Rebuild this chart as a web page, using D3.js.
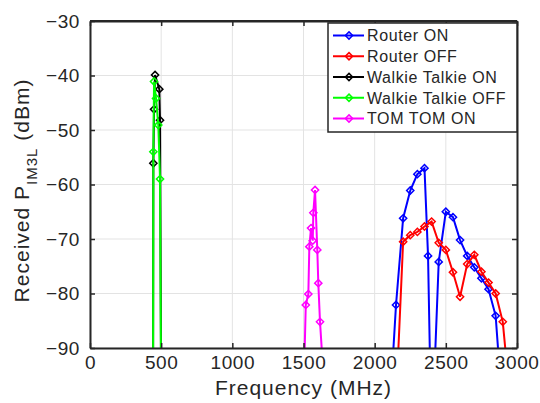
<!DOCTYPE html>
<html>
<head>
<meta charset="utf-8">
<script src="https://cdn.jsdelivr.net/npm/d3@7"></script>
<style>
  body { margin: 0; background: #fff; }
  text { font-family: "Liberation Sans", Arial, sans-serif; fill: #262626; }
</style>
</head>
<body>
<div id="chart"></div>
<script>
// data (MHz, dBm); points below -90 are clipped
var routerOnFreq  = [2100, 2150, 2200, 2250, 2300, 2350, 2375, 2400, 2450, 2500, 2550, 2600, 2650, 2700, 2750, 2800, 2850, 2900];
var routerOnVal   = [-104, -82.1, -66.2, -61.1, -58.1, -57.0, -73.1, -108, -74.2, -65.0, -66.0, -70.2, -73.1, -75.2, -77.2, -79.2, -84.1, -102];
var routerOffFreq = [2150, 2200, 2250, 2300, 2350, 2400, 2450, 2500, 2550, 2600, 2650, 2700, 2750, 2800, 2850, 2900, 2950];
var routerOffVal  = [-100, -70.5, -69.3, -68.7, -67.7, -66.8, -70.7, -72.0, -76.1, -80.6, -74.6, -72.9, -76.0, -78.0, -80.0, -85.2, -99];
var walkieOnFreq  = [443, 445, 450, 457, 487, 492, 500];
var walkieOnVal   = [-100, -56.1, -46.2, -39.9, -42.5, -48.2, -100];
var walkieOffFreq = [443, 445, 450, 464, 480, 492, 500];
var walkieOffVal  = [-100, -54.0, -41.1, -44.2, -49.1, -59.0, -100];
var tomtomFreq    = [1500, 1516, 1534, 1541, 1553, 1565, 1569, 1581, 1597, 1604, 1616, 1640];
var tomtomVal     = [-99, -82.1, -80.1, -71.4, -68.0, -70.3, -65.2, -61.0, -72.0, -78.1, -85.2, -95];

var seriesNames  = ["Router ON", "Router OFF", "Walkie Talkie ON", "Walkie Talkie OFF", "TOM TOM ON"];
var seriesColors = ["#0000ff", "#ff0000", "#000000", "#00ff00", "#ff00ff"];
var xTicks = [0, 500, 1000, 1500, 2000, 2500, 3000];
var yTicks = [-90, -80, -70, -60, -50, -40, -30];

var series = [
  {freq: routerOnFreq, val: routerOnVal},
  {freq: routerOffFreq, val: routerOffVal},
  {freq: walkieOnFreq, val: walkieOnVal},
  {freq: walkieOffFreq, val: walkieOffVal},
  {freq: tomtomFreq, val: tomtomVal}
];

var W = 540, H = 403;
var margin = {top: 21, right: 23, bottom: 55, left: 90},
    width = W - margin.left - margin.right,
    height = H - margin.top - margin.bottom;

var svg = d3.select("#chart").append("svg")
    .attr("width", W)
    .attr("height", H);

var g = svg.append("g")
    .attr("transform", "translate(" + margin.left + "," + margin.top + ")");

var x = d3.scaleLinear().domain([0, 3000]).range([0, width]);
var y = d3.scaleLinear().domain([-90, -30]).range([height, 0]);

// grid
g.append("g").selectAll("line").data(xTicks).enter().append("line")
    .attr("x1", function(d) { return x(d); }).attr("x2", function(d) { return x(d); })
    .attr("y1", 0).attr("y2", height)
    .attr("stroke", "#e3e3e3").attr("stroke-width", 1);
g.append("g").selectAll("line").data(yTicks).enter().append("line")
    .attr("y1", function(d) { return y(d); }).attr("y2", function(d) { return y(d); })
    .attr("x1", 0).attr("x2", width)
    .attr("stroke", "#e3e3e3").attr("stroke-width", 1);

// clip
svg.append("defs").append("clipPath").attr("id", "clip")
  .append("rect").attr("width", width).attr("height", height);

var line = d3.line()
    .x(function(d) { return x(d[0]); })
    .y(function(d) { return y(d[1]); });

var diamond = function(cx, cy) {
  var s = 3.6;
  return "M" + cx + "," + (cy - s) + "L" + (cx + s) + "," + cy +
         "L" + cx + "," + (cy + s) + "L" + (cx - s) + "," + cy + "Z";
};

var plot = g.append("g").attr("clip-path", "url(#clip)");

series.forEach(function(s, i) {
  var pts = s.freq.map(function(f, j) { return [f, s.val[j]]; });
  plot.append("path")
      .datum(pts)
      .attr("d", line)
      .attr("fill", "none")
      .attr("stroke", seriesColors[i])
      .attr("stroke-width", 2);
  plot.append("g").selectAll("path")
      .data(pts.filter(function(d) { return d[1] >= -90; }))
      .enter().append("path")
      .attr("d", function(d) { return diamond(x(d[0]), y(d[1])); })
      .attr("fill", "none")
      .attr("stroke", seriesColors[i])
      .attr("stroke-width", 1.5);
});

// axes (box with inward ticks)
var axisColor = "#262626";
var xAxis = g.append("g")
    .attr("transform", "translate(0," + height + ")")
    .call(d3.axisBottom(x).tickValues(xTicks).tickSizeInner(-5).tickSizeOuter(0).tickPadding(8)
      .tickFormat(d3.format("d")));
var xTop = g.append("g")
    .call(d3.axisTop(x).tickValues(xTicks).tickSizeInner(-5).tickSizeOuter(0).tickFormat(""));
var yAxis = g.append("g")
    .call(d3.axisLeft(y).tickValues(yTicks).tickSizeInner(-5).tickSizeOuter(0).tickPadding(10)
      .tickFormat(function(d) { return "\u2212" + Math.abs(d); }));
var yRight = g.append("g")
    .attr("transform", "translate(" + width + ",0)")
    .call(d3.axisRight(y).tickValues(yTicks).tickSizeInner(-5).tickSizeOuter(0).tickFormat(""));

[xAxis, xTop, yAxis, yRight].forEach(function(a) {
  a.select(".domain").attr("stroke", axisColor).attr("stroke-width", 2);
  a.selectAll(".tick line").attr("stroke", axisColor).attr("stroke-width", 1.5);
  a.selectAll(".tick text")
      .attr("fill", axisColor)
      .style("font-family", "'Liberation Sans', Arial, sans-serif")
      .style("font-size", "19px")
      .style("letter-spacing", "0.6px");
});
// keep the last x label inside the picture, as in the reference
xAxis.selectAll(".tick text").filter(function(d) { return d === 3000; })
    .attr("text-anchor", "end").attr("x", 22);

// axis labels
svg.append("text")
    .attr("x", margin.left + width / 2)
    .attr("y", 395)
    .attr("text-anchor", "middle")
    .style("font-size", "21px")
    .style("letter-spacing", "1px")
    .text("Frequency (MHz)");

var ylab = svg.append("text")
    .attr("transform", "translate(29," + (margin.top + height / 2 + 6) + ") rotate(-90)")
    .attr("text-anchor", "middle")
    .style("font-size", "21px")
    .style("letter-spacing", "1px");
ylab.append("tspan").text("Received P");
ylab.append("tspan").attr("dy", 8).style("font-size", "15px").text("IM3L");
ylab.append("tspan").attr("dy", -8).text("\u00a0(dBm)");

// legend
var leg = svg.append("g").attr("transform", "translate(328,23)");
leg.append("rect")
    .attr("width", 189).attr("height", 109)
    .attr("fill", "#fff")
    .attr("stroke", axisColor).attr("stroke-width", 1.5);
seriesNames.forEach(function(name, i) {
  var ry = 12.5 + i * 20.75;
  leg.append("line")
      .attr("x1", 5).attr("x2", 36).attr("y1", ry).attr("y2", ry)
      .attr("stroke", seriesColors[i]).attr("stroke-width", 2);
  leg.append("path")
      .attr("d", diamond(21, ry))
      .attr("fill", "none")
      .attr("stroke", seriesColors[i]).attr("stroke-width", 1.5);
  leg.append("text")
      .attr("x", 39).attr("y", ry)
      .attr("dy", "0.36em")
      .style("font-size", "16px")
      .style("letter-spacing", "0.6px")
      .text(name);
});
// redraw top border over legend
g.append("line").attr("x1", 0).attr("x2", width).attr("y1", 0).attr("y2", 0)
    .attr("stroke", axisColor).attr("stroke-width", 2);
</script>
</body>
</html>
